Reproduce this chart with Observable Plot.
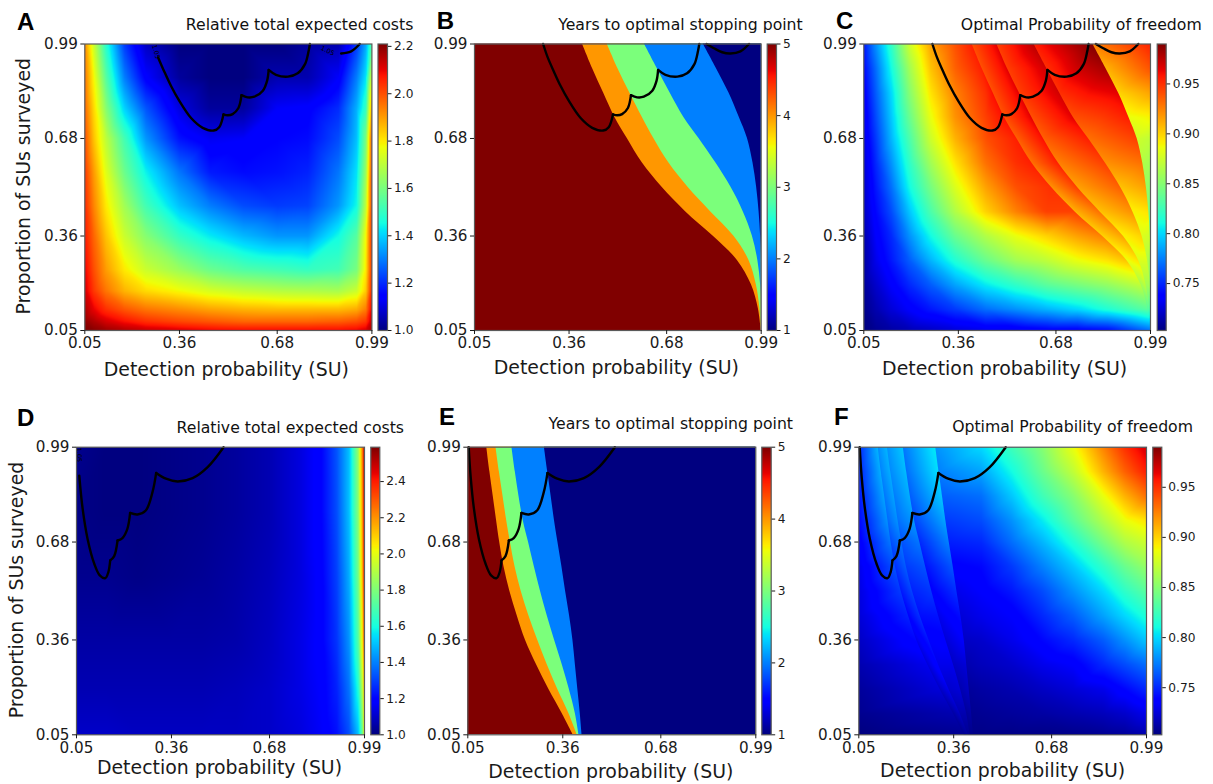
<!DOCTYPE html>
<html>
<head>
<meta charset="utf-8">
<script src="https://cdn.jsdelivr.net/npm/d3@7"></script>
<script src="https://cdn.jsdelivr.net/npm/@observablehq/plot@0.6"></script>
<style>
html,body{margin:0;padding:0;background:#fff}
#page{position:relative;width:1213px;height:784px;overflow:hidden;font-family:"DejaVu Sans",sans-serif}
#page svg{position:absolute;overflow:visible;background:transparent;max-width:none}
.ttl{position:absolute;font-size:15.7px;color:#111;white-space:nowrap;line-height:1;transform:translateY(-50%)}
.ltr{position:absolute;font:bold 24px "Liberation Sans",Arial,sans-serif;color:#000;line-height:1;transform:translateY(-50%)}
</style>
</head>
<body>
<div id="page"></div>
<script>
// ---------- shared labels ----------
const axisTicks = [0.05, 0.36, 0.68, 0.99];
const xLabel = "Detection probability (SU)";
const yLabel = "Proportion of SUs surveyed";
const titleCost = "Relative total expected costs";
const titleYears = "Years to optimal stopping point";
const titleFreedom = "Optimal Probability of freedom";

// ---------- y levels at which band boundaries were read (top to bottom) ----------
const yLevels = [0.99,0.91,0.83,0.75,0.68,0.60,0.52,0.44,0.36,0.28,0.20,0.12,0.05];

// ---------- band boundaries, scenario 1 (panels B, C): x at each y level ----------
const b1 = [.404,.437,.473,.510,.551,.600,.665,.742,.832,.912,.958,.981,.99];
const b2 = [.485,.520,.559,.600,.638,.687,.750,.824,.900,.950,.974,.986,.99];
const b3 = [.607,.649,.691,.736,.786,.841,.891,.931,.961,.979,.988,.99,.99];
const b4 = [.800,.843,.884,.918,.945,.963,.975,.983,.988,.99,.99,.99,.99];

// ---------- band boundaries, scenario 2 (panels E, F) ----------
const e1 = [.112,.122,.133,.144,.154,.168,.187,.211,.238,.274,.314,.358,.394];
const e2 = [.142,.153,.165,.177,.189,.204,.224,.249,.278,.309,.343,.380,.407];
const e3 = [.194,.205,.217,.231,.248,.267,.287,.309,.333,.358,.381,.401,.413];
const e4 = [.300,.311,.322,.333,.344,.357,.369,.382,.393,.401,.409,.417,.423];

// ---------- contour lobes ----------
const topLobes = [
  [[.275,.99],[.290,.946],[.310,.900],[.332,.853],[.359,.804],[.398,.747],[.436,.715],[.472,.706],[.490,.717],[.504,.759]],
  [[.504,.759],[.518,.756],[.534,.760],[.553,.780],[.563,.822]],
  [[.563,.822],[.583,.815],[.605,.817],[.633,.837],[.647,.870],[.652,.905]],
  [[.652,.905],[.676,.889],[.715,.883],[.747,.894],[.771,.924],[.783,.968],[.787,.99]],
  [[.811,.99],[.835,.976],[.862,.963],[.889,.959],[.922,.966],[.950,.99]]
];
const bottomLobes = [
  [[.053,.99],[.059,.897],[.070,.789],[.086,.691],[.108,.609],[.126,.571],[.144,.562],[.154,.582],[.160,.620]],
  [[.160,.620],[.173,.634],[.184,.685]],
  [[.184,.685],[.200,.693],[.216,.723],[.225,.775]],
  [[.225,.775],[.249,.770],[.276,.783],[.298,.843],[.310,.906]],
  [[.310,.906],[.342,.887],[.380,.878],[.429,.889],[.478,.925],[.530,.99]]
];

// ---------- panel A grid ----------
const aX = [.05,.08,.12,.18,.25,.36,.46,.57,.68,.78,.88,.94,.97,.99];
const aY = [.99,.88,.78,.68,.57,.46,.36,.25,.18,.12,.08,.05];
const aCost = [
 [1.92,1.72,1.48,1.22,1.07,1.00,1.00,1.00,1.00,1.03,1.05,1.22,1.35,1.55],
 [1.95,1.78,1.55,1.30,1.14,1.03,1.00,1.00,1.05,1.05,1.13,1.30,1.42,1.75],
 [1.97,1.82,1.62,1.40,1.25,1.10,1.03,1.03,1.13,1.14,1.20,1.36,1.50,1.90],
 [2.00,1.85,1.70,1.52,1.33,1.17,1.12,1.13,1.15,1.16,1.24,1.38,1.60,2.00],
 [2.03,1.90,1.75,1.58,1.44,1.29,1.18,1.16,1.17,1.19,1.29,1.42,1.65,2.02],
 [2.05,1.93,1.80,1.66,1.52,1.38,1.30,1.24,1.22,1.23,1.33,1.45,1.70,2.03],
 [2.07,1.97,1.85,1.72,1.62,1.50,1.43,1.37,1.33,1.33,1.45,1.55,1.78,2.05],
 [2.10,2.00,1.90,1.80,1.72,1.65,1.58,1.54,1.52,1.50,1.52,1.60,1.80,2.05],
 [2.12,2.03,1.95,1.87,1.82,1.78,1.74,1.71,1.69,1.68,1.67,1.72,1.84,2.07],
 [2.16,2.10,2.04,1.99,1.95,1.92,1.89,1.87,1.86,1.86,1.86,1.88,1.94,2.11],
 [2.19,2.16,2.12,2.08,2.04,2.01,1.99,1.97,1.97,1.97,1.98,2.00,2.03,2.14],
 [2.21,2.20,2.18,2.16,2.14,2.12,2.10,2.09,2.09,2.09,2.09,2.10,2.12,2.17]
];

// ---------- panel D grid ----------
const dX = [.05,.15,.25,.36,.46,.57,.68,.78,.85,.90,.94,.97,.985,.99];
const dY = [.99,.78,.57,.36,.20,.05];
const dCost = [
 [1.02,1.00,1.00,1.01,1.02,1.04,1.07,1.13,1.20,1.33,1.50,1.85,2.30,2.59],
 [1.01,1.00,1.00,1.01,1.02,1.04,1.07,1.13,1.20,1.32,1.50,1.82,2.25,2.55],
 [1.02,1.02,1.01,1.02,1.03,1.05,1.08,1.13,1.19,1.30,1.47,1.78,2.20,2.50],
 [1.05,1.05,1.05,1.05,1.05,1.06,1.09,1.14,1.19,1.28,1.43,1.72,2.10,2.40],
 [1.07,1.07,1.07,1.07,1.07,1.08,1.10,1.14,1.18,1.25,1.38,1.62,1.95,2.20],
 [1.10,1.10,1.09,1.09,1.09,1.09,1.10,1.13,1.17,1.22,1.32,1.50,1.80,2.10]
];

// ---------- panel C: left region grid (rows = yLevels), null past the first boundary ----------
const cX = [.05,.09,.14,.20,.27,.35,.45,.55,.65,.75,.85];
const cLeft = [
 [.745,.78,.82,.875,.915,.94,null,null,null,null,null],
 [.74,.77,.81,.86,.905,.935,null,null,null,null,null],
 [.735,.765,.80,.85,.895,.925,.95,null,null,null,null],
 [.73,.76,.795,.84,.885,.92,.945,null,null,null,null],
 [.728,.755,.79,.83,.875,.91,.94,null,null,null,null],
 [.725,.75,.78,.82,.86,.895,.93,.95,null,null,null],
 [.722,.745,.77,.81,.845,.88,.915,.94,null,null,null],
 [.72,.74,.76,.795,.83,.865,.90,.925,.945,null,null],
 [.715,.735,.75,.78,.81,.84,.865,.885,.90,.915,null],
 [.712,.73,.745,.765,.79,.815,.84,.86,.87,.885,.895],
 [.71,.722,.735,.75,.765,.785,.805,.82,.835,.845,.855],
 [.706,.715,.725,.735,.745,.755,.77,.78,.79,.80,.815],
 [.703,.708,.712,.716,.72,.725,.73,.73,.735,.735,.74]
];
// values just left and just right of each boundary
const cB1L = [.955,.955,.96,.96,.955,.955,.95,.945,.925,.905,.87,.835,.77];
const cB1R = [.94,.94,.94,.94,.935,.93,.92,.91,.90,.885,.86,.83,.77];
const cB2L = [.965,.965,.965,.965,.96,.955,.945,.93,.915,.895,.87,.835,.77];
const cB2R = [.945,.945,.945,.94,.935,.925,.915,.905,.89,.88,.86,.83,.77];
const cB3L = [.975,.97,.97,.965,.955,.945,.935,.92,.90,.88,.86,.83,.77];
const cB3R = [.955,.95,.95,.94,.93,.92,.905,.89,.88,.865,.85,.825,.77];
const cB4L = [.99,.98,.965,.955,.945,.93,.915,.895,.875,.855,.84,.82,.77];
const cB4R = [.925,.91,.90,.885,.875,.865,.855,.845,.83,.82,.81,.80,.77];
const cEdge = [.955,.94,.915,.89,.87,.86,.85,.84,.83,.82,.81,.80,.77];

// ---------- panel F ----------
const fEdgeLeft = [.75,.748,.745,.74,.735,.73,.727,.725,.72,.715,.71,.707,.703];
const fE1L = [.79,.788,.785,.78,.772,.762,.755,.748,.74,.73,.725,.715,.708];
const fE1R = [.778,.776,.772,.768,.76,.752,.745,.738,.73,.725,.72,.712,.707];
const fE2L = [.79,.788,.785,.78,.772,.765,.758,.752,.745,.74,.73,.72,.71];
const fE2R = [.78,.778,.774,.77,.762,.755,.748,.742,.735,.73,.722,.715,.708];
const fE3L = [.795,.792,.788,.782,.772,.762,.754,.744,.737,.73,.725,.715,.708];
const fE3R = [.772,.77,.765,.758,.75,.743,.737,.73,.725,.72,.715,.71,.706];
const fE4L = [.805,.802,.795,.785,.775,.763,.752,.742,.735,.725,.72,.712,.706];
const fE4R = [.78,.775,.765,.755,.747,.737,.73,.725,.72,.715,.71,.707,.705];
const fX = [.45,.55,.65,.75,.85,.92,.99];
const fRight = [
 [.80,.825,.85,.885,.925,.95,.97],
 [.785,.81,.84,.87,.91,.935,.955],
 [.77,.795,.825,.85,.885,.91,.93],
 [.76,.78,.805,.835,.865,.885,.895],
 [.75,.77,.79,.815,.845,.865,.875],
 [.74,.755,.775,.795,.82,.84,.855],
 [.735,.745,.76,.78,.80,.82,.835],
 [.73,.735,.75,.765,.785,.80,.815],
 [.722,.73,.74,.75,.765,.78,.795],
 [.718,.722,.73,.735,.75,.76,.77],
 [.712,.715,.72,.725,.73,.74,.75],
 [.708,.71,.712,.715,.718,.722,.73],
 [.705,.705,.705,.706,.708,.71,.715]
];

// ---------- colourbars ----------
const cbCost1Ticks = [1.0,1.2,1.4,1.6,1.8,2.0,2.2];
const cbCost2Ticks = [1.0,1.2,1.4,1.6,1.8,2.0,2.2,2.4];
const cbYearTicks = [1,2,3,4,5];
const cbFreeTicks = [0.75,0.80,0.85,0.90,0.95];
const cost1Domain = [1.0,2.21];
const cost2Domain = [1.0,2.59];
const yearDomain = [1,5];
const freeDomain = [0.703,0.99];

// ---------- jet colormap knots ----------
const jetR = d3.scaleLinear([0,.35,.66,.89,1],[0,0,1,1,.5]).clamp(true);
const jetG = d3.scaleLinear([0,.125,.375,.64,.91,1],[0,0,1,1,0,0]).clamp(true);
const jetB = d3.scaleLinear([0,.11,.34,.65,1],[.5,1,1,0,0]).clamp(true);
const jet = t => `rgb(${Math.round(255*jetR(t))},${Math.round(255*jetG(t))},${Math.round(255*jetB(t))})`;

// ---------- tables built from the arrays ----------
function gridPoints(xs, ys, rows){
  const out=[];
  rows.forEach((r,j)=>r.forEach((v,i)=>{ if(v!=null) out.push({x:xs[i],y:ys[j],v}); }));
  return out;
}
function linePoints(xs, vals){ return yLevels.map((y,j)=>({x:xs[j],y,v:vals[j]})); }
const rightEdge = yLevels.map(()=>0.994);
const leftEdge = yLevels.map(()=>0.05);
function bands(bs){
  // painter's order: year 5 full frame, then each later band from its boundary to the right edge
  const out=[];
  [5,4,3,2,1].forEach((year,k)=>{
    yLevels.forEach((y,j)=>out.push({year,y,x1:k===0?0.05:bs[k-1][j],x2:0.99}));
  });
  return out;
}
// each band of the freedom panels has its own points; a band starts at `from`
const bandsC = [
  {from:null,points:[...gridPoints(cX,yLevels,cLeft),...linePoints(b1,cB1L)]},
  {from:b1,points:[...linePoints(b1,cB1R),...linePoints(b2,cB2L)]},
  {from:b2,points:[...linePoints(b2,cB2R),...linePoints(b3,cB3L)]},
  {from:b3,points:[...linePoints(b3,cB3R),...linePoints(b4,cB4L)]},
  {from:b4,points:[...linePoints(b4,cB4R),...linePoints(rightEdge,cEdge)]}
];
const bandsF = [
  {from:null,points:[...linePoints(leftEdge,fEdgeLeft),...linePoints(e1,fE1L)]},
  {from:e1,points:[...linePoints(e1,fE1R),...linePoints(e2,fE2L)]},
  {from:e2,points:[...linePoints(e2,fE2R),...linePoints(e3,fE3L)]},
  {from:e3,points:[...linePoints(e3,fE3R),...linePoints(e4,fE4L)]},
  {from:e4,points:[...linePoints(e4,fE4R),...gridPoints(fX,yLevels,fRight)]}
];
const pointsA = gridPoints(aX,aY,aCost);
const pointsD = gridPoints(dX,dY,dCost);
function lobeRows(lobes, keep){
  const out=[];
  lobes.forEach((l,z)=>l.forEach(([x,y])=>{ if(!keep||keep(x,y,z)) out.push({x,y,z}); }));
  return out;
}

// ---------- panel layout ----------
const panels = [
 {id:"A",title:titleCost,l:84.3,r:371.4,t:43.5,b:330,cb:[377.5,387],lab:39,labDx:-2,ylab:true,yx:23,titleR:413.3,titleY:25,ltrX:17,ltrY:21.7,
  domain:cost1Domain,ticks:cbCost1Ticks,fmt:".1f",points:pointsA,lobes:lobeRows(topLobes,(x,y,z)=>!(z===0&&y>.95)&&!(z===4&&x<.865)),
  tags:[{x:.283,y:.965,a:75},{x:.845,y:.968,a:25}]},
 {id:"B",title:titleYears,l:474,r:760.7,t:43.5,b:330,cb:[766.7,776],lab:37,labDx:-1.5,titleR:802.7,titleY:24.7,ltrX:436.7,ltrY:20.7,
  domain:yearDomain,ticks:cbYearTicks,fmt:"d",bands:bands([b1,b2,b3,b4]),lobes:lobeRows(topLobes)},
 {id:"C",title:titleFreedom,l:863.3,r:1150,t:43.5,b:330,cb:[1156.7,1165.7],lab:38,labDx:-2.5,titleR:1201.7,titleY:25,ltrX:836,ltrY:21,
  domain:freeDomain,ticks:cbFreeTicks,fmt:".2f",layers:bandsC,lobes:lobeRows(topLobes)},
 {id:"D",title:titleCost,l:76,r:364,t:446.7,b:734.3,cb:[370.3,379.3],lab:33,labDx:-1,ylab:true,yx:16,titleR:404,titleY:427.7,ltrX:17,ltrY:417.7,
  domain:cost2Domain,ticks:cbCost2Ticks,fmt:".1f",points:pointsD,lobes:lobeRows(bottomLobes,(x,y,z)=>!(z===0&&y>.94)),
  tags:[{x:.0585,y:.965,a:88}]},
 {id:"E",title:titleYears,l:467.3,r:755.3,t:446.7,b:734.3,cb:[761.3,770.7],lab:37,labDx:-1,titleR:793,titleY:424.3,ltrX:439,ltrY:417,
  domain:yearDomain,ticks:cbYearTicks,fmt:"d",bands:bands([e1,e2,e3,e4]),lobes:lobeRows(bottomLobes)},
 {id:"F",title:titleFreedom,l:858.3,r:1146,t:446.7,b:734.3,cb:[1152.3,1161.3],lab:36,labDx:0,titleR:1193,titleY:427.3,ltrX:834,ltrY:416.7,
  domain:freeDomain,ticks:cbFreeTicks,fmt:".2f",layers:bandsF,lobes:lobeRows(bottomLobes)}
];

const page = document.getElementById("page");
const ink = "#1a1a1a", edge = "#5a5a5a";
const SVGNS = "http://www.w3.org/2000/svg";

function place(svg, left, top){ svg.style.left=left+"px"; svg.style.top=top+"px"; page.appendChild(svg); }

// a raster for one band, clipped (through the plot's own scales) to the area right of its boundary
function bandRaster(layer, clipId){
  return Plot.raster(layer.points,{
    x:"x",y:"y",fill:"v",interpolate:"barycentric",
    render: layer.from ? (index,scales,values,dims,context,next)=>{
      const g = next(index,scales,values,dims,context);
      const d = d3.area().curve(d3.curveCatmullRom)
        .x0((_,j)=>scales.x(layer.from[j])).x1(()=>scales.x(0.99))
        .y((y)=>scales.y(y))(yLevels);
      const cp = document.createElementNS(SVGNS,"clipPath");
      cp.setAttribute("id",clipId);
      const path = document.createElementNS(SVGNS,"path");
      path.setAttribute("d",d);
      cp.appendChild(path);
      g.insertBefore(cp,g.firstChild);
      g.setAttribute("clip-path",`url(#${clipId})`);
      return g;
    } : undefined
  });
}

panels.forEach(p=>{
  const svgL = Math.floor(p.l) - (p.ylab ? 80 : 46);
  const svgT = Math.floor(p.t) - 8;
  const W = Math.ceil(p.r) + 24 - svgL;
  const H = Math.ceil(p.b) + 50 - svgT;
  const color = {type:"linear",domain:p.domain,interpolate:jet};
  const marks = [];
  if(p.points) marks.push(Plot.raster(p.points,{x:"x",y:"y",fill:"v",interpolate:"barycentric"}));
  if(p.layers) p.layers.forEach((layer,k)=>marks.push(bandRaster(layer,`clip-${p.id}-${k}`)));
  if(p.bands) marks.push(Plot.areaX(p.bands,{x1:"x1",x2:"x2",y:"y",z:"year",fill:"year",curve:"catmull-rom"}));
  marks.push(Plot.line(p.lobes,{x:"x",y:"y",z:"z",stroke:"#000",strokeWidth:2.4,curve:"catmull-rom"}));
  if(p.tags) marks.push(Plot.text(p.tags,{x:"x",y:"y",text:()=>"1.05",rotate:"a",fontSize:6.5,fill:"#000"}));
  marks.push(Plot.frame({stroke:edge,strokeWidth:1.2}));
  marks.push(Plot.axisX({ticks:axisTicks,tickFormat:".2f",label:null,tickSize:4,tickPadding:3,fontSize:15.2,stroke:ink,fill:ink}));
  marks.push(Plot.axisY({ticks:axisTicks,tickFormat:".2f",label:null,tickSize:4,tickPadding:3,fontSize:15.2,stroke:ink,fill:ink}));
  marks.push(Plot.text([xLabel],{frameAnchor:"bottom",lineAnchor:"middle",dy:p.lab,dx:p.labDx,fontSize:18.9,fill:ink}));
  if(p.ylab) marks.push(Plot.text([yLabel],{frameAnchor:"left",textAnchor:"middle",lineAnchor:"middle",dx:p.yx-p.l,dy:-1,rotate:-90,fontSize:18.9,fill:ink}));
  const svg = Plot.plot({
    width:W,height:H,
    marginLeft:p.l-svgL,marginRight:svgL+W-p.r,marginTop:p.t-svgT,marginBottom:svgT+H-p.b,
    style:{fontFamily:'"DejaVu Sans",sans-serif',background:"transparent",overflow:"visible"},
    x:{domain:[0.05,0.99]},y:{domain:[0.05,0.99]},color,
    marks
  });
  place(svg,svgL,svgT);

  // colourbar
  const cbL = Math.floor(p.cb[0]);
  const cbW = Math.ceil(p.cb[1]) + 36 - cbL;
  const cbTop = Math.floor(p.t) - 8;
  const cbH = Math.ceil(p.b) + 8 - cbTop;
  const cb = Plot.plot({
    width:cbW,height:cbH,
    marginLeft:p.cb[0]-cbL,marginRight:cbL+cbW-p.cb[1],marginTop:p.t-cbTop,marginBottom:cbTop+cbH-p.b,
    style:{fontFamily:'"DejaVu Sans",sans-serif',background:"transparent",overflow:"visible"},
    x:{domain:[0,1],axis:null},y:{domain:p.domain},color,
    marks:[
      Plot.raster({x1:0,x2:1,y1:p.domain[0],y2:p.domain[1],width:1,height:256,fill:(x,y)=>y}),
      Plot.frame({stroke:edge,strokeWidth:1.2}),
      Plot.axisY({anchor:"right",ticks:p.ticks,tickFormat:p.fmt,label:null,tickSize:3.5,tickPadding:3,fontSize:12.2,stroke:ink,fill:ink})
    ]
  });
  place(cb,cbL,cbTop);

  const t=document.createElement("div");
  t.className="ttl"; t.textContent=p.title;
  t.style.right=(1213-p.titleR)+"px"; t.style.top=p.titleY+"px";
  page.appendChild(t);
  const a=document.createElement("div");
  a.className="ltr"; a.textContent=p.id;
  a.style.left=p.ltrX+"px"; a.style.top=p.ltrY+"px";
  page.appendChild(a);
});
</script>
</body>
</html>
